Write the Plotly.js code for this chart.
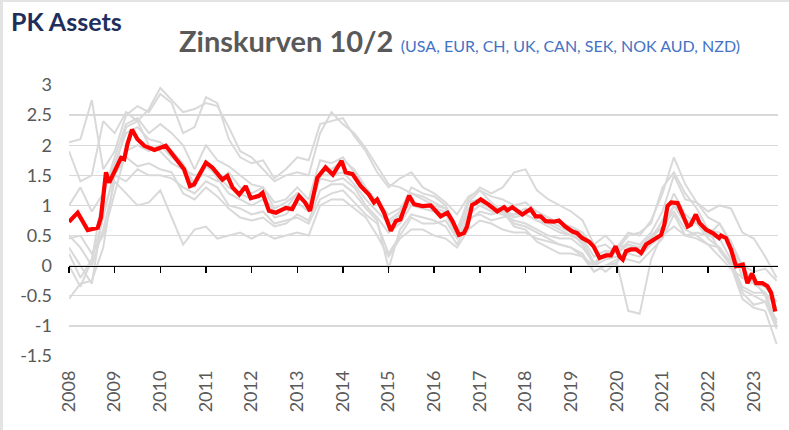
<!DOCTYPE html>
<html>
<head>
<meta charset="utf-8">
<script src="https://cdn.plot.ly/plotly-3.0.1.min.js"></script>
<style>
html,body{margin:0;padding:0;background:#fff;}
#wrap{position:relative;width:789px;height:430px;}
#chart{width:789px;height:430px;}
#wrap:before{content:"";position:absolute;left:0;top:0;width:3px;height:430px;background:#e3e3e3;z-index:5;}
#wrap:after{content:"";position:absolute;left:0;top:0;width:789px;height:2px;background:#e3e3e3;z-index:5;}
</style>
</head>
<body>
<div id="wrap"><div id="chart"></div></div>
<script>
// ---- data (decimal years, spread 10y-2y in %) ----
const years = [2008,2009,2010,2011,2012,2013,2014,2015,2016,2017,2018,2019,2020,2021,2022,2023];
const yearLabels = ["2008","2009","2010","2011","2012","2013","2014","2015","2016","2017","2018","2019","2020","2021","2022","2023"];
const yTickVals = [3,2.5,2,1.5,1,0.5,0,-0.5,-1,-1.5];
const yTickLabels = ["3","2.5","2","1.5","1","0.5","0","-0.5","-1","-1.5"];

const redT = [
 2008.00,2008.19,2008.41,2008.63,2008.70,2008.81,2008.88,
 2009.03,2009.14,2009.21,2009.28,2009.38,2009.50,2009.65,2009.87,
 2010.12,2010.34,2010.52,2010.65,2010.74,
 2011.00,2011.14,2011.36,2011.47,2011.58,2011.73,2011.87,2011.98,
 2012.16,2012.24,2012.38,2012.53,2012.75,2012.89,
 2013.04,2013.17,2013.28,2013.44,2013.62,2013.78,2013.97,
 2014.06,2014.21,2014.39,2014.57,2014.68,2014.75,2014.90,
 2015.05,2015.16,2015.26,2015.45,2015.56,2015.74,2015.92,
 2016.14,2016.29,2016.40,2016.54,2016.65,2016.72,2016.83,2016.91,
 2017.02,2017.20,2017.38,2017.53,2017.60,2017.71,2017.93,
 2018.11,2018.22,2018.33,2018.44,2018.62,2018.73,2018.87,
 2019.02,2019.13,2019.24,2019.39,2019.49,2019.62,2019.77,2019.87,2019.97,
 2020.06,2020.13,2020.20,2020.31,2020.42,2020.53,2020.64,2020.82,2020.97,
 2021.04,2021.11,2021.19,2021.33,2021.44,2021.55,2021.62,2021.73,2021.81,2021.95,
 2022.10,2022.24,2022.28,2022.39,2022.50,2022.61,2022.76,2022.86,2022.96,
 2023.05,2023.19,2023.30,2023.38,2023.47];
const redV = [
 0.73,0.88,0.59,0.63,0.80,1.55,1.38,
 1.63,1.79,1.77,2.02,2.26,2.10,1.99,1.92,
 1.99,1.77,1.60,1.32,1.35,
 1.71,1.63,1.43,1.49,1.30,1.18,1.32,1.12,
 1.16,1.21,0.91,0.88,0.96,0.94,
 1.16,1.05,0.91,1.46,1.63,1.51,1.74,
 1.55,1.52,1.32,1.18,1.05,1.10,0.88,
 0.58,0.74,0.77,1.16,1.02,0.99,1.00,
 0.82,0.88,0.74,0.51,0.54,0.65,1.01,1.04,
 1.10,1.01,0.90,0.97,0.92,0.97,0.85,
 0.94,0.82,0.82,0.74,0.73,0.75,0.65,
 0.57,0.54,0.46,0.40,0.32,0.13,0.17,0.17,0.32,
 0.15,0.10,0.24,0.27,0.27,0.21,0.35,0.43,0.51,
 0.68,0.99,1.05,1.04,0.85,0.65,0.68,0.85,0.71,0.60,
 0.54,0.46,0.50,0.46,0.27,-0.01,0.02,-0.29,-0.13,
 -0.29,-0.29,-0.34,-0.45,-0.76];

// quarterly observation dates for the single-country curves
const grayT = [
 2008.00,2008.25,2008.50,2008.75, 2009.00,2009.25,2009.50,2009.75,
 2010.00,2010.25,2010.50,2010.75, 2011.00,2011.25,2011.50,2011.75,
 2012.00,2012.25,2012.50,2012.75, 2013.00,2013.25,2013.50,2013.75,
 2014.00,2014.25,2014.50,2014.75, 2015.00,2015.25,2015.50,2015.75,
 2016.00,2016.25,2016.50,2016.75, 2017.00,2017.25,2017.50,2017.75,
 2018.00,2018.25,2018.50,2018.75, 2019.00,2019.25,2019.50,2019.75,
 2020.00,2020.25,2020.50,2020.75, 2021.00,2021.25,2021.50,2021.75,
 2022.00,2022.25,2022.50,2022.75, 2023.00,2023.25,2023.50];

const usa = [2.05,2.1,2.75,1.6, 1.9,2.5,2.65,2.55, 2.85,2.7,2.2,2.3, 2.8,2.7,2.1,1.8, 1.7,1.75,1.45,1.6, 1.8,1.75,2.35,2.4,
 2.45,2.15,1.9,1.55, 1.3,1.45,1.55,1.3, 1.2,1.05,0.85,1.15, 1.25,1.05,0.9,0.65, 0.6,0.4,0.3,0.2, 0.2,0.15,0.0,0.2,
 0.25,0.5,0.55,0.7, 1.3,1.55,1.2,0.95, 0.6,0.25,0.0,-0.45, -0.65,-0.6,-1.05];
const uk = [1.9,1.4,1.5,2.4, 2.2,2.55,2.4,2.6, 2.95,2.75,2.55,2.6, 2.7,2.65,2.3,1.9, 1.8,1.6,1.4,1.5, 1.55,1.5,2.2,2.55,
 2.35,2.2,1.95,1.65, 1.35,1.3,1.2,1.15, 1.05,0.95,0.55,0.85, 1.0,0.9,0.85,0.75, 0.7,0.6,0.5,0.45, 0.45,0.3,0.05,0.2,
 0.3,0.35,0.3,0.5, 0.65,0.9,0.6,0.5, 0.35,0.15,-0.05,-0.2, -0.25,-0.5,-1.0];
const eur = [-0.55,-0.3,-0.25,0.3, 1.5,1.8,1.65,1.7, 1.6,1.55,1.2,1.1, 1.3,1.15,0.95,0.8, 0.75,0.8,0.65,0.7, 0.85,0.75,1.25,1.35,
 1.35,1.2,0.95,0.75, -0.05,0.6,0.85,0.8, 0.75,0.65,0.35,0.75, 0.9,0.85,0.9,0.85, 0.95,0.8,0.75,0.65, 0.55,0.35,0.0,0.1,
 0.15,0.1,0.05,0.25, 0.45,0.85,0.5,0.55, 0.5,0.7,0.35,0.0, -0.1,-0.05,-0.25];
const nok = [0.3,0.0,-0.3,0.9, 1.5,1.4,1.6,1.5, 1.5,1.45,1.3,1.2, 1.4,1.3,1.0,0.95, 0.85,0.9,0.7,0.75, 0.8,0.7,1.1,1.2,
 1.25,1.05,0.85,0.7, 0.2,0.5,0.8,0.7, 0.7,0.75,0.45,0.8, 0.85,0.75,0.8,0.85, 0.85,0.75,0.65,0.55, 0.5,0.4,0.05,-0.1,
 0.05,-0.75,-0.8,0.1, 0.55,1.0,0.75,0.7, 0.6,0.55,0.4,0.0, -0.3,-0.35,-0.6];
const ch = [0.5,0.3,0.0,0.6, 1.4,1.2,1.0,1.05, 1.25,0.8,0.35,0.6, 0.65,0.45,0.5,0.55, 0.45,0.55,0.45,0.5, 0.55,0.5,1.0,1.1,
 1.1,0.95,0.8,0.5, 0.15,0.45,0.6,0.6, 0.5,0.45,0.3,0.6, 0.75,0.7,0.6,0.55, 0.55,0.45,0.4,0.35, 0.3,0.15,-0.1,0.0,
 0.1,0.2,0.15,0.35, 0.5,0.65,0.5,0.45, 0.35,0.3,0.05,-0.35, -0.45,-0.45,-0.7];
const aud = [0.2,-0.2,0.1,0.8, 1.6,2.3,2.4,2.0, 1.9,1.7,1.6,1.5, 1.5,1.4,1.55,1.3, 1.2,1.3,0.95,1.05, 1.2,1.0,1.55,1.6,
 1.75,1.6,1.3,1.05, 0.75,0.9,1.3,1.2, 1.15,1.0,0.6,1.1, 1.3,1.2,1.3,1.55, 1.6,1.25,1.1,1.0, 0.9,0.75,0.35,0.5,
 0.3,0.55,0.5,0.75, 1.2,1.8,1.35,1.05, 0.9,1.0,0.95,0.55, 0.45,0.15,-0.2];
const sek = [0.45,0.5,0.2,0.5, 1.2,1.9,2.0,1.9, 2.0,1.8,1.65,1.3, 1.75,1.45,1.2,1.1, 1.0,1.1,0.8,0.85, 1.05,0.9,1.45,1.4,
 1.45,1.3,1.0,0.8, 0.55,0.7,1.0,0.95, 0.9,0.85,0.5,0.95, 1.05,0.95,0.9,0.8, 0.85,0.75,0.7,0.6, 0.5,0.45,0.15,0.25,
 0.2,0.35,0.3,0.45, 0.65,1.0,0.7,0.8, 0.5,0.45,0.1,-0.4, -0.5,-0.6,-0.9];
const can = [1.0,1.3,0.9,1.2, 1.7,2.2,2.3,2.1, 2.05,1.9,1.7,1.35, 1.65,1.5,1.3,1.2, 1.1,1.15,0.9,0.95, 1.2,1.0,1.5,1.5,
 1.55,1.35,1.1,0.9, 0.7,0.85,1.05,1.0, 0.95,0.9,0.55,1.05, 1.1,0.95,0.95,0.7, 0.65,0.55,0.45,0.35, 0.3,0.2,-0.1,0.0,
 0.05,0.3,0.3,0.45, 0.75,1.2,0.85,0.7, 0.45,0.3,0.0,-0.55, -0.7,-0.75,-1.3];
const nzd = [0.0,-0.35,0.1,1.2, 1.8,2.35,2.45,2.2, 2.35,2.2,2.0,1.6, 2.0,1.75,1.65,1.5, 1.35,1.3,1.05,1.1, 1.3,1.1,1.75,1.7,
 1.8,1.55,1.25,1.05, 0.85,0.95,1.2,1.1, 1.0,0.95,0.55,1.05, 1.25,1.15,1.1,1.0, 1.05,0.9,0.8,0.7, 0.65,0.55,0.3,0.35,
 0.2,0.4,0.35,0.55, 0.9,1.5,1.1,1.05, 0.8,0.7,0.4,-0.2, -0.3,-0.45,-0.95];

const grayNames = ["USA","UK","EUR","NOK","CH","AUD","SEK","CAN","NZD"];
const grayData = [usa,uk,eur,nok,ch,aud,sek,can,nzd];

// ---- traces ----
const traces = grayData.map((v,i)=>({
  type:'scatter', mode:'lines', x:grayT, y:v, name:grayNames[i],
  line:{color:'#d9d9d9', width:2}, hoverinfo:'skip', showlegend:false
}));
traces.push({
  type:'scatter', mode:'lines', x:redT, y:redV, name:'Durchschnitt',
  xaxis:'x2', line:{color:'#ff0000', width:4.2}, showlegend:false
});

const fnt = 'Lato, "Open Sans", sans-serif';
const layout = {
  width:789, height:430,
  margin:{l:69, r:11, t:85, b:74},
  paper_bgcolor:'#ffffff', plot_bgcolor:'rgba(0,0,0,0)',
  showlegend:false,
  font:{family:fnt, color:'#595959'},
  xaxis:{
    range:[2008,2023.53], showgrid:false, zeroline:false, showline:false,
    tickmode:'array', tickvals:years, ticktext:yearLabels, tickangle:-90,
    ticks:'', ticklabelstandoff:10,
    tickfont:{family:fnt, size:18, color:'#595959'}
  },
  xaxis2:{
    overlaying:'x', matches:'x', anchor:'free', position:1/3, side:'bottom',
    range:[2008,2023.53], showgrid:false, zeroline:false,
    showline:true, linecolor:'#000000', linewidth:1.5,
    tickmode:'array', tickvals:years, ticks:'outside', ticklen:6, tickwidth:1.5, tickcolor:'#000000',
    showticklabels:false
  },
  yaxis:{
    range:[-1.5,3], tickmode:'array', tickvals:yTickVals, ticktext:yTickLabels,
    showgrid:true, gridcolor:'#d9d9d9', gridwidth:1.3, zeroline:false, showline:false,
    ticks:'', ticklabelstandoff:16,
    tickfont:{family:fnt, size:18, color:'#595959'}
  },
  annotations:[
    {xref:'paper', yref:'paper', x:-0.085, y:1.3, xanchor:'left', yanchor:'top', showarrow:false,
     text:'<b>PK Assets</b>', font:{family:fnt, size:25, color:'#1f2f5c'}},
    {xref:'paper', yref:'paper', x:0.152, y:1.235, xanchor:'left', yanchor:'top', showarrow:false,
     text:'<b>Zinskurven 10/2</b> <span style="font-size:16px;color:#4472c4;font-weight:normal">(USA, EUR, CH, UK, CAN, SEK, NOK AUD, NZD)</span>',
     font:{family:fnt, size:29, color:'#595959'}}
  ]
};

Plotly.newPlot('chart', traces, layout, {displayModeBar:false, staticPlot:true});
</script>
</body>
</html>
